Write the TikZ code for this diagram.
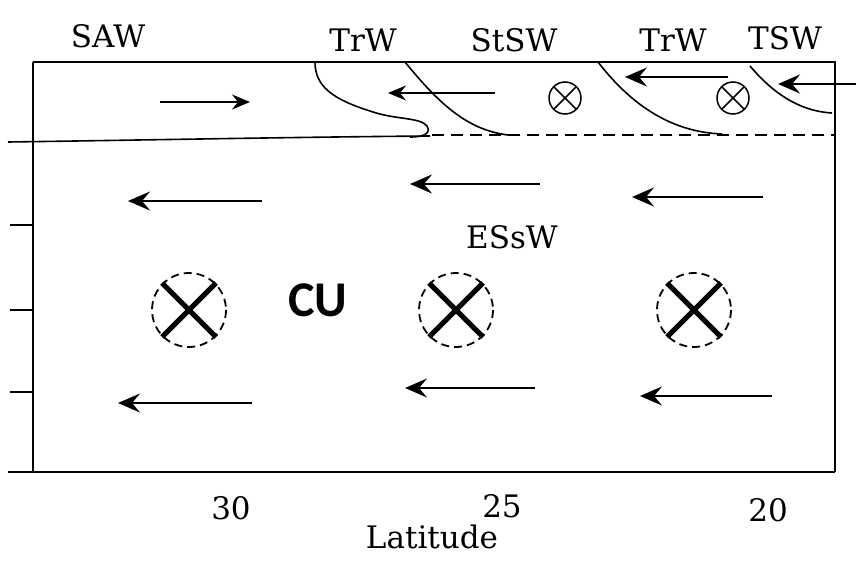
\documentclass[tikz,border=0pt]{standalone}
\usepackage{fontspec}
\setmainfont{DejaVu Serif}
\newfontfamily\cufont{Carlito}
\usetikzlibrary{arrows.meta}

\begin{document}
\begin{tikzpicture}[x=1pt,y=-1pt,
  lbl/.style={font=\fontsize{31}{31}\selectfont,inner sep=0pt},
  flow/.style={line width=2.6pt,-{Stealth[length=22pt,width=19pt,inset=8pt]}},
  front/.style={line width=1.6pt},
  bigx/.style={line width=5pt},
  ring/.style={line width=1.8pt,dash pattern=on 8pt off 5pt}]
\useasboundingbox (0,0) rectangle (856,572);

% frame and axes
\draw[line width=2pt] (33,62)--(835,62)--(835,472);
\draw[line width=2pt] (33,62)--(33,472) (8,472)--(835,472);
\foreach \y in {225,310,392} \draw[line width=1.6pt] (10,\y)--(33,\y);

% water mass boundaries
\draw[front] (315,62) .. controls (315,86) and (332,99) .. (370,111) .. controls (395,120) and (420,117) .. (427,126) .. controls (431,133) and (425,137) .. (410,137);
\draw[front] (8,142) .. controls (150,140) and (300,137) .. (430,136);
\draw[line width=1.8pt,dash pattern=on 12pt off 7pt] (432,135)--(835,135);
\draw[front] (405,62) .. controls (440,105) and (468,130) .. (508,135);
\draw[front] (598,62) .. controls (632,106) and (672,132) .. (722,134);
\draw[front] (750,66) .. controls (772,92) and (798,111) .. (832,113);

% surface currents
\draw[flow,line width=2pt,-{Stealth[length=18pt,width=15pt,inset=6pt]}] (160,102)--(250,102);
\draw[flow,line width=2pt,-{Stealth[length=18pt,width=15pt,inset=6pt]}] (495,93)--(388,93);
\draw[flow] (728,77)--(625,77);
\draw[flow] (856,84)--(778,84);
\foreach \cx in {565,733}{
  \draw[line width=1.5pt] (\cx,98) circle (16);
  \draw[line width=1.5pt] (\cx-11,87)--(\cx+11,109) (\cx-11,109)--(\cx+11,87);
}

% subsurface flow
\draw[flow] (262,201)--(128,201);
\draw[flow] (540,184)--(410,184);
\draw[flow] (763,197)--(632,197);
\draw[flow] (252,403)--(118,403);
\draw[flow] (535,388)--(405,388);
\draw[flow] (772,396)--(640,396);
\foreach \cx in {189,456,694}{
  \draw[ring] (\cx,310) circle (37);
  \draw[bigx] (\cx-27,283)--(\cx+27,337) (\cx-27,337)--(\cx+27,283);
}

% labels
\node[lbl] (saw) at (108,36) {SAW};
\node[lbl] (trw1) at (363,40) {TrW};
\node[lbl] (stsw) at (514,40) {StSW};
\node[lbl] (trw2) at (673,40) {TrW};
\node[lbl] (tsw) at (785,38) {TSW};
\node[lbl] (essw) at (512,237) {ESsW};
\node[font=\cufont\bfseries\fontsize{50}{50}\selectfont,inner sep=0pt] (cu) at (318,300) {CU};
\node[lbl] (t30) at (231,508) {30};
\node[lbl] (t25) at (502,506) {25};
\node[lbl] (t20) at (768,510) {20};
\node[lbl,anchor=base] (lat) at (432,548) {Latitude};
\end{tikzpicture}
\end{document}
